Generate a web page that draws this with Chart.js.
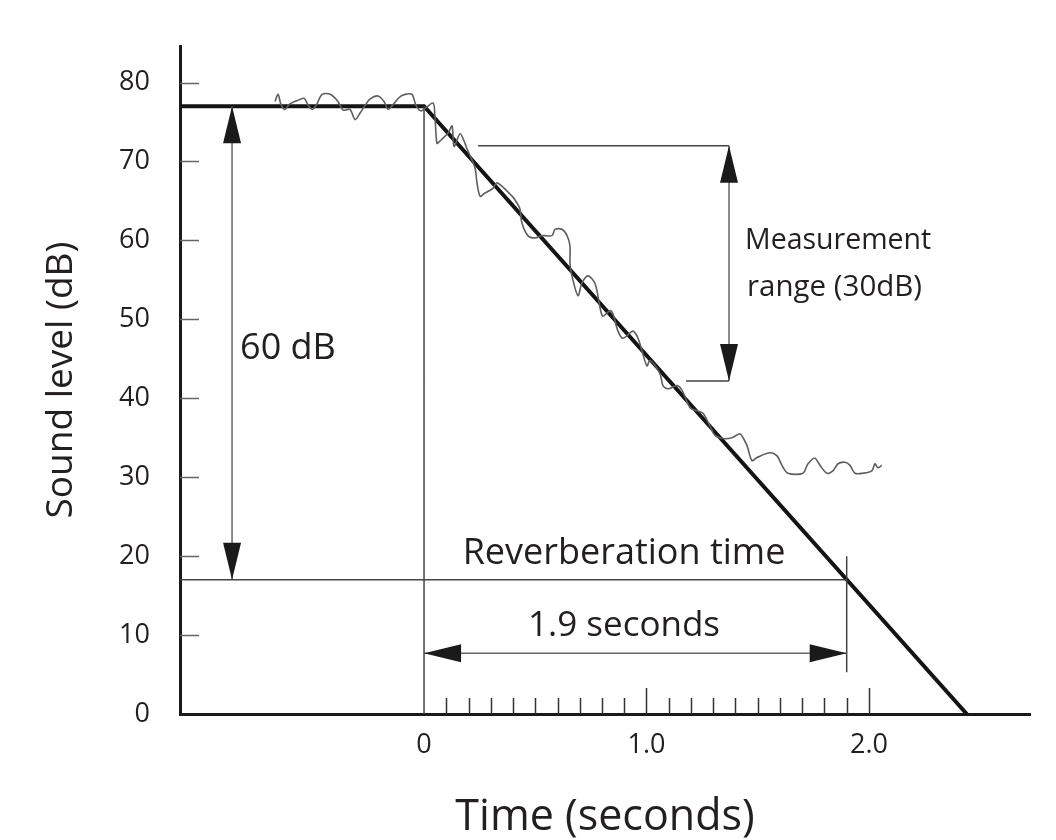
<!DOCTYPE html>
<html>
<head>
<meta charset="utf-8">
<script src="https://cdn.jsdelivr.net/npm/chart.js@4.4.1/dist/chart.umd.min.js"></script>
<style>
  html, body { margin: 0; padding: 0; background: #fff; }
  #wrap { width: 1056px; height: 840px; }
</style>
</head>
<body>
<div id="wrap"><canvas id="decay" width="1056" height="840"></canvas></div>
<script>
// axis ticks
const xTickValues = [0, 1.0, 2.0];
const yTickValues = [0, 10, 20, 30, 40, 50, 60, 70, 80];

// measured sound level (noisy trace), time in s, level in dB
const noiseTime = [-0.670,-0.656,-0.643,-0.625,-0.607,-0.571,-0.539,-0.521,-0.503,-0.485,
  -0.458,-0.422,-0.387,-0.364,-0.333,-0.310,-0.288,-0.265,-0.243,-0.207,
  -0.180,-0.162,-0.139,-0.112,-0.085,-0.054,-0.036,-0.013,0.040,0.049,
  0.058,0.072,0.108,0.126,0.135,0.162,0.184,0.193,0.229,0.238,
  0.252,0.274,0.310,0.328,0.396,0.418,0.431,0.440,0.467,0.499,
  0.530,0.575,0.589,0.620,0.643,0.656,0.656,0.665,0.692,0.710,
  0.737,0.769,0.791,0.804,0.836,0.849,0.872,0.894,0.939,0.962,
  0.984,1.002,1.016,1.061,1.074,1.097,1.137,1.160,1.196,1.227,
  1.254,1.285,1.308,1.344,1.384,1.420,1.434,1.452,1.474,1.497,
  1.555,1.587,1.609,1.636,1.703,1.726,1.757,1.780,1.811,1.838,
  1.861,1.892,1.915,1.937,1.973,2.013,2.027,2.040,2.058];
const noiseLevel = [77.6,78.5,77.2,76.6,77.2,77.7,78.0,77.1,76.6,77.1,
  78.5,78.5,77.6,76.5,76.6,75.3,76.1,77.1,77.9,78.3,
  77.6,76.6,77.2,78.1,78.5,78.5,77.1,76.4,77.4,75.7,
  72.3,72.6,73.6,74.5,71.9,73.5,72.3,71.6,69.2,67.3,
  65.6,66.0,66.6,67.3,65.6,64.7,64.0,62.2,60.6,60.3,
  60.6,60.6,61.4,61.4,60.6,59.3,57.1,55.5,53.0,54.6,
  55.5,54.5,51.5,50.4,51.1,50.7,48.5,47.6,48.5,47.6,
  45.6,44.1,44.8,43.1,41.6,41.2,41.6,41.0,38.8,38.4,
  38.1,36.5,35.3,34.9,35.0,35.5,35.0,34.0,32.1,32.5,
  33.1,32.7,31.5,30.5,30.5,31.7,32.4,31.5,30.5,30.8,
  31.7,31.9,31.5,30.5,30.5,30.8,31.7,31.2,31.5];

// idealised decay: steady level, then straight fall
const decayTime = [-1.097, 0, 2.44];
const decayLevel = [77, 77, 0];

// thin guide lines: [[t1, dB1], [t2, dB2]]
const guideSegments = [
  [[0, 0], [0, 77]],
  [[-1.097, 17], [1.9, 17]],
  [[1.9, 5.3], [1.9, 20]],
  [[0.243, 72], [1.371, 72]],
  [[1.178, 42.2], [1.371, 42.2]]
];
// double-headed arrows
const arrowSegments = [
  [[-0.863, 17], [-0.863, 77]],
  [[1.371, 42.2], [1.371, 72]],
  [[0, 7.7], [1.9, 7.7]]
];

const noteTexts = ['60 dB', 'Measurement', 'range (30dB)', 'Reverberation time', '1.9 seconds'];

const FONT = "'Open Sans', 'Noto Sans', sans-serif";
const INK = '#231f20';

function segData(segs) {
  const out = [];
  segs.forEach(s => {
    out.push({x: s[0][0], y: s[0][1]}, {x: s[1][0], y: s[1][1]}, {x: s[1][0], y: null});
  });
  return out;
}

// inner tick marks, arrowheads and notes
const extras = {
  id: 'extras',
  afterDatasetsDraw(chart) {
    const {ctx, scales: {x, y}} = chart;
    ctx.save();
    // y ticks inside the axis
    ctx.strokeStyle = '#666';
    ctx.lineWidth = 1.5;
    yTickValues.forEach(v => {
      if (v === 0) return;
      const py = Math.round(y.getPixelForValue(v)) + 0.5;
      ctx.beginPath();
      ctx.moveTo(x.left, py);
      ctx.lineTo(x.left + 19, py);
      ctx.stroke();
    });
    // x ticks every 0.1 s between 0 and 2.0
    ctx.strokeStyle = '#333';
    for (let i = 1; i <= 20; i++) {
      const px = Math.round(x.getPixelForValue(i / 10)) + 0.5;
      const len = (i % 10 === 0) ? 26 : 16;
      ctx.beginPath();
      ctx.moveTo(px, y.bottom);
      ctx.lineTo(px, y.bottom - len);
      ctx.stroke();
    }
    // arrowheads
    ctx.fillStyle = '#1a1a1a';
    const head = (tip, from) => {
      const tx = x.getPixelForValue(tip[0]), ty = y.getPixelForValue(tip[1]);
      const fx = x.getPixelForValue(from[0]), fy = y.getPixelForValue(from[1]);
      const d = Math.hypot(tx - fx, ty - fy);
      const ux = (tx - fx) / d, uy = (ty - fy) / d;
      const L = 37, W = 9;
      const bx = tx - ux * L, by = ty - uy * L;
      ctx.beginPath();
      ctx.moveTo(tx, ty);
      ctx.lineTo(bx - uy * W, by + ux * W);
      ctx.lineTo(bx + uy * W, by - ux * W);
      ctx.closePath();
      ctx.fill();
    };
    arrowSegments.forEach(s => { head(s[0], s[1]); head(s[1], s[0]); });
    // notes
    ctx.fillStyle = INK;
    ctx.textBaseline = 'middle';
    const note = (txt, t, db, size, align) => {
      ctx.font = size + 'px ' + FONT;
      ctx.textAlign = align;
      ctx.fillText(txt, x.getPixelForValue(t), y.getPixelForValue(db));
    };
    note(noteTexts[0], -0.827, 46.3, 36, 'left');
    note(noteTexts[1], 1.443, 59.9, 28.5, 'left');
    note(noteTexts[2], 1.452, 54.0, 29.5, 'left');
    note(noteTexts[3], 0.899, 20.35, 36, 'center');
    note(noteTexts[4], 0.899, 11.1, 35, 'center');
    ctx.restore();
  }
};

new Chart(document.getElementById('decay'), {
  type: 'line',
  data: {
    datasets: [
      {
        label: 'Measured',
        data: noiseTime.map((t, i) => ({x: t, y: noiseLevel[i]})),
        borderColor: '#5e5e5e',
        borderWidth: 1.6,
        pointRadius: 0,
        tension: 0.3
      },
      {
        label: 'Guides',
        data: segData(guideSegments),
        borderColor: '#444',
        borderWidth: 1.5,
        pointRadius: 0,
        spanGaps: false
      },
      {
        label: 'Arrows',
        data: segData(arrowSegments),
        borderColor: '#666',
        borderWidth: 1.5,
        pointRadius: 0,
        spanGaps: false
      },
      {
        label: 'Decay',
        data: decayTime.map((t, i) => ({x: t, y: decayLevel[i]})),
        borderColor: '#141414',
        borderWidth: 4,
        pointRadius: 0
      }
    ]
  },
  options: {
    responsive: false,
    animation: false,
    layout: { padding: { top: 45, right: 26, left: 10, bottom: 0 } },
    plugins: { legend: { display: false }, tooltip: { enabled: false } },
    scales: {
      x: {
        type: 'linear',
        min: -1.097,
        max: 2.724,
        afterBuildTicks: s => { s.ticks = xTickValues.map(v => ({value: v})); },
        afterFit: s => { s.height = 126; },
        grid: { display: false, drawTicks: false },
        border: { display: true, width: 3, color: '#1a1a1a' },
        ticks: {
          color: INK,
          padding: 15,
          font: { family: FONT, size: 27 },
          callback: v => v === 0 ? '0' : v.toFixed(1)
        },
        title: {
          display: true,
          text: 'Time (seconds)',
          color: INK,
          font: { family: FONT, size: 43 },
          padding: { top: 0, bottom: -4 }
        }
      },
      y: {
        type: 'linear',
        min: 0,
        max: 84.6,
        afterBuildTicks: s => { s.ticks = yTickValues.map(v => ({value: v})); },
        afterFit: s => { s.width = 170; },
        grid: { display: false, drawTicks: false },
        border: { display: true, width: 3, color: '#1a1a1a' },
        ticks: {
          color: INK,
          padding: 30,
          font: { family: FONT, size: 27 }
        },
        title: {
          display: true,
          text: 'Sound level (dB)',
          color: INK,
          font: { family: FONT, size: 37 },
          padding: { top: 29, bottom: 0 }
        }
      }
    }
  },
  plugins: [extras]
});
</script>
</body>
</html>
